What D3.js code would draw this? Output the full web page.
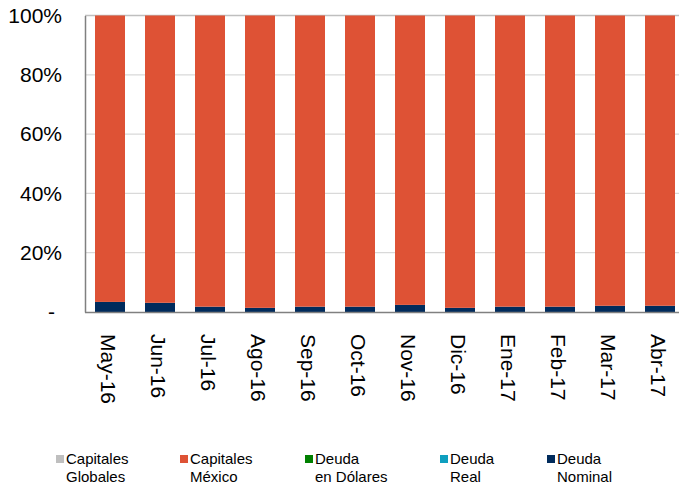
<!DOCTYPE html>
<html>
<head>
<meta charset="utf-8">
<script src="https://cdn.jsdelivr.net/npm/d3@7"></script>
<style>
  body { margin: 0; background: #fff; }
  text { font-family: "Liberation Sans", Arial, sans-serif; fill: #000; }
</style>
</head>
<body>
<svg width="679" height="489"></svg>
<script>
const months = ["May-16", "Jun-16", "Jul-16", "Ago-16", "Sep-16", "Oct-16",
    "Nov-16", "Dic-16", "Ene-17", "Feb-17", "Mar-17", "Abr-17"];
// porcentajes por mes
const capitalesGlobales = [0, 0, 0, 0, 0, 0, 0, 0, 0, 0, 0, 0];
const capitalesMexico = [96.6, 96.9, 98.2, 98.6, 98.2, 98.2, 97.6, 98.6, 98.2, 98.2, 97.9, 97.9];
const deudaDolares = [0, 0, 0, 0, 0, 0, 0, 0, 0, 0, 0, 0];
const deudaReal = [0, 0, 0, 0, 0, 0, 0, 0, 0, 0, 0, 0];
const deudaNominal = [3.4, 3.1, 1.8, 1.4, 1.8, 1.8, 2.4, 1.4, 1.8, 1.8, 2.1, 2.1];
const yTicks = [0, 0.2, 0.4, 0.6, 0.8, 1];

const series = [
    { key: "deudaNominal", name: ["Deuda", "Nominal"], color: "#002b5c", values: deudaNominal },
    { key: "deudaReal", name: ["Deuda", "Real"], color: "#0e9fbf", values: deudaReal },
    { key: "deudaDolares", name: ["Deuda", "en Dólares"], color: "#008000", values: deudaDolares },
    { key: "capitalesMexico", name: ["Capitales", "México"], color: "#de5235", values: capitalesMexico },
    { key: "capitalesGlobales", name: ["Capitales", "Globales"], color: "#bfbfbf", values: capitalesGlobales },
];

const table = months.map((m, i) => {
    const row = { month: m };
    series.forEach(s => { row[s.key] = s.values[i] / 100; });
    return row;
});

const svg = d3.select("svg");
const margin = { top: 15.5, left: 85 };
const height = 296.5;

const xScale = d3.scaleBand()
    .domain(months)
    .range([margin.left, margin.left + 600])
    .paddingInner(0.4)
    .paddingOuter(0.2);
const yScale = d3.scaleLinear()
    .domain([0, 1])
    .range([margin.top + height, margin.top]);

// líneas de cuadrícula
svg.append("g")
    .selectAll("line")
    .data(yTicks.filter(d => d > 0))
    .join("line")
    .attr("x1", margin.left)
    .attr("x2", 679)
    .attr("y1", d => yScale(d))
    .attr("y2", d => yScale(d))
    .attr("stroke", d => d === 1 ? "#bfbfbf" : "#d9d9d9")
    .attr("stroke-width", 1.3);

// barras apiladas
const stack = d3.stack().keys(series.map(s => s.key));
svg.append("g")
    .selectAll("g")
    .data(stack(table))
    .join("g")
    .attr("fill", (d, i) => series[i].color)
    .selectAll("rect")
    .data(d => d)
    .join("rect")
    .attr("x", d => xScale(d.data.month))
    .attr("width", xScale.bandwidth())
    .attr("y", d => yScale(d[1]))
    .attr("height", d => yScale(d[0]) - yScale(d[1]));

// eje y
const yAxis = svg.append("g")
    .attr("transform", `translate(${margin.left},0)`)
    .call(d3.axisLeft(yScale)
        .tickValues(yTicks)
        .tickSize(0)
        .tickPadding(23)
        .tickFormat(d => d === 0 ? "-" : d3.format(".0%")(d)));
yAxis.select(".domain").attr("stroke", "#808080").attr("stroke-width", 1.5);
yAxis.selectAll("text")
    .style("font-size", "21px")
    .attr("font-family", null)
    .attr("dx", d => d === 0 ? -7 : 0);

// eje x
const xAxis = svg.append("g")
    .attr("transform", `translate(0,${margin.top + height})`)
    .call(d3.axisBottom(xScale).tickSize(0).tickPadding(0));
xAxis.select(".domain")
    .attr("d", `M${margin.left},0.5H679`)
    .attr("stroke", "#808080")
    .attr("stroke-width", 1.5);
xAxis.selectAll("text")
    .style("font-size", "21px")
    .attr("font-family", null)
    .attr("transform", "rotate(90)")
    .attr("text-anchor", "start")
    .attr("x", 22)
    .attr("y", 2)
    .attr("dy", "0.35em");

// leyenda
const legendX = [56, 180, 305, 440, 547];
const legendOrder = ["capitalesGlobales", "capitalesMexico", "deudaDolares", "deudaReal", "deudaNominal"];
const legend = svg.append("g")
    .selectAll("g")
    .data(legendOrder.map(k => series.find(s => s.key === k)))
    .join("g")
    .attr("transform", (d, i) => `translate(${legendX[i]},0)`);
legend.append("rect")
    .attr("x", 0)
    .attr("y", 455)
    .attr("width", 8)
    .attr("height", 8)
    .attr("fill", d => d.color);
const lt = legend.append("text")
    .attr("x", 10)
    .attr("y", 464)
    .style("font-size", "15px");
lt.append("tspan").text(d => d.name[0]);
lt.append("tspan").attr("x", 10).attr("dy", 18).text(d => d.name[1]);
</script>
</body>
</html>
